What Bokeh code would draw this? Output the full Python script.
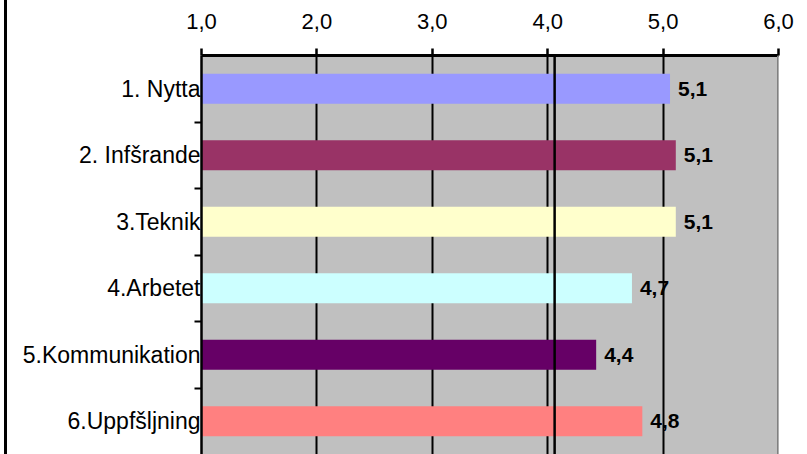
from bokeh.plotting import figure
from bokeh.models import (Range1d, FixedTicker, ColumnDataSource, LabelSet, Span)
from bokeh.core.properties import value
from bokeh.embed import file_html
from bokeh.resources import INLINE

# ---- data ----
categories = ["1. Nytta", "2. Infšrande", "3.Teknik", "4.Arbetet",
              "5.Kommunikation", "6.Uppfšljning"]
values = [5.06, 5.11, 5.11, 4.73, 4.42, 4.82]
bar_colors = ["#9999FF", "#993366", "#FFFFCC", "#CCFFFF", "#660066", "#FF8080"]
x_ticks = [1.0, 2.0, 3.0, 4.0, 5.0, 6.0]
x_tick_labels = ["1,0", "2,0", "3,0", "4,0", "5,0", "6,0"]
reference_value = 4.06

FONT = "Liberation Sans"

n = len(categories)
pos = [i + 0.5 for i in range(n)]
src = ColumnDataSource(dict(
    y=pos,
    left=[x_ticks[0]] * n,
    right=values,
    color=bar_colors,
    vlabel=[f"{v:.1f}".replace(".", ",") for v in values],
))

p = figure(width=800, height=454, output_backend="svg", toolbar_location=None,
           x_range=Range1d(x_ticks[0], x_ticks[-1]), y_range=Range1d(n, 0),
           x_axis_location="above", y_axis_location="left")
p.styles = {"border-left": "3px solid black", "margin-left": "4px"}
p.min_border_left = 194
p.min_border_right = 29
p.min_border_top = 55
p.min_border_bottom = 0
p.background_fill_color = "#C0C0C0"
p.border_fill_color = "white"
p.outline_line_color = None

# grid
p.xgrid.ticker = FixedTicker(ticks=x_ticks[1:-1])
p.xgrid.grid_line_color = "black"
p.xgrid.grid_line_width = 2
p.ygrid.grid_line_color = None

# bars
p.hbar(y="y", left="left", right="right", height=0.45, color="color",
       line_color=None, source=src)

# reference line
p.add_layout(Span(location=reference_value, dimension="height",
                  line_color="black", line_width=2.5))
# right edge
p.add_layout(Span(location=x_ticks[-1], dimension="height",
                  line_color="#808080", line_width=3))

# top axis
xa = p.xaxis[0]
xa.ticker = FixedTicker(ticks=x_ticks)
xa.major_label_overrides = {t: l for t, l in zip(x_ticks, x_tick_labels)}
xa.major_label_text_font = FONT
xa.major_label_text_font_size = "22px"
xa.major_label_text_color = "black"
xa.major_label_standoff = 20
xa.axis_line_width = 3
xa.axis_line_color = "black"
xa.major_tick_out = 7
xa.major_tick_in = 0
xa.major_tick_line_width = 2.5
xa.major_tick_line_color = "black"
xa.minor_tick_line_color = None

# left axis: labels at category centres, minor ticks at boundaries
ya = p.yaxis[0]
ya.ticker = FixedTicker(ticks=pos, minor_ticks=[i for i in range(1, n)])
ya.major_label_overrides = {y: c for y, c in zip(pos, categories)}
ya.major_label_text_font = FONT
ya.major_label_text_font_size = "23px"
ya.major_label_text_color = "black"
ya.major_label_standoff = -6
ya.axis_line_width = 2.5
ya.axis_line_color = "black"
ya.major_tick_out = 0
ya.major_tick_in = 0
ya.major_tick_line_color = None
ya.minor_tick_out = 7
ya.minor_tick_in = 0
ya.minor_tick_line_width = 2
ya.minor_tick_line_color = "black"

# value labels
p.add_layout(LabelSet(x="right", y="y", text="vlabel", source=src,
                      text_align="left", text_baseline="middle", x_offset=8,
                      text_font=value(FONT), text_font_size=value("21px"),
                      text_font_style="bold", text_color="black"))

open("out.html", "w").write(file_html(p, INLINE))
